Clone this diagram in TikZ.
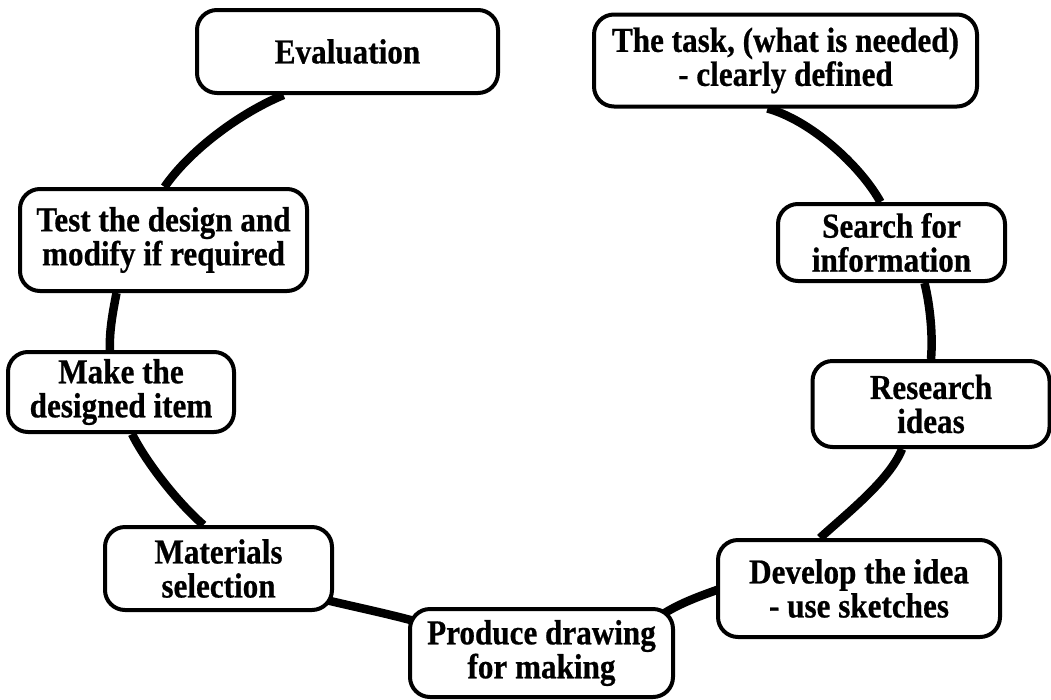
\documentclass[tikz,border=0pt]{standalone}
\usepackage{fontspec}
\setmainfont{Liberation Serif}[FakeStretch=0.89, BoldFeatures={FakeBold=0.6}]
\usetikzlibrary{backgrounds}
\begin{document}
\begin{tikzpicture}[x=1pt,y=-1pt,
  box/.style={draw, line width=4pt, rounded corners=20pt, fill=white, align=center,
    inner sep=0pt, font=\fontsize{35}{34}\selectfont\bfseries},
  conn/.style={line width=8.5pt}]
\useasboundingbox (0,0) rectangle (1051,699);
\node[box, minimum width=301pt, minimum height=83pt] (eval) at (347.5,51.5) {Evaluation};
\node[box, minimum width=383pt, minimum height=92pt] (task) at (785.5,60.5) {The task, (what is needed)\\- clearly defined};
\node[box, minimum width=287pt, minimum height=102pt] (test) at (163.5,240) {Test the design and\\modify if required};
\node[box, minimum width=227pt, minimum height=77pt] (search) at (891.5,242.5) {Search for\\information};
\node[box, minimum width=226pt, minimum height=80pt] (make) at (121,392) {Make the\\designed item};
\node[box, minimum width=237pt, minimum height=86pt] (research) at (931,404) {Research\\ideas};
\node[box, minimum width=227pt, minimum height=83pt] (mat) at (218.5,568.5) {Materials\\selection};
\node[box, minimum width=282pt, minimum height=97pt] (dev) at (859,588.5) {Develop the idea\\- use sketches};
\node[box, minimum width=263pt, minimum height=88pt] (prod) at (541.5,653) {Produce drawing\\for making};
\begin{pgfonlayer}{background}
\draw[conn] ([xshift=-64pt]eval.south) .. controls (240,113) and (190,150) .. ([xshift=1pt]test.north);
\draw[conn] ([xshift=-47pt]test.south) .. controls (113,311) and (109,332) .. ([xshift=-11pt]make.north);
\draw[conn] ([xshift=11pt]make.south) .. controls (145,460) and (175,500) .. ([xshift=-15pt]mat.north);
\draw[conn] ([xshift=-10pt,yshift=-31pt]mat.east) .. controls (355,607) and (385,613) .. ([xshift=10pt,yshift=31pt]prod.west);
\draw[conn] ([xshift=120pt,yshift=-8pt]prod.north) .. controls (680,603) and (700,596) .. ([xshift=5pt]dev.west);
\draw[conn] ([xshift=-39pt]dev.north) .. controls (845,515) and (890,480) .. ([xshift=-29pt]research.south);
\draw[conn] (research.north) .. controls (933,335) and (930,305) .. ([xshift=33pt]search.south);
\draw[conn] ([xshift=-11pt]search.north) .. controls (860,165) and (810,120) .. ([xshift=-18pt]task.south);
\end{pgfonlayer}
\end{tikzpicture}
\end{document}
